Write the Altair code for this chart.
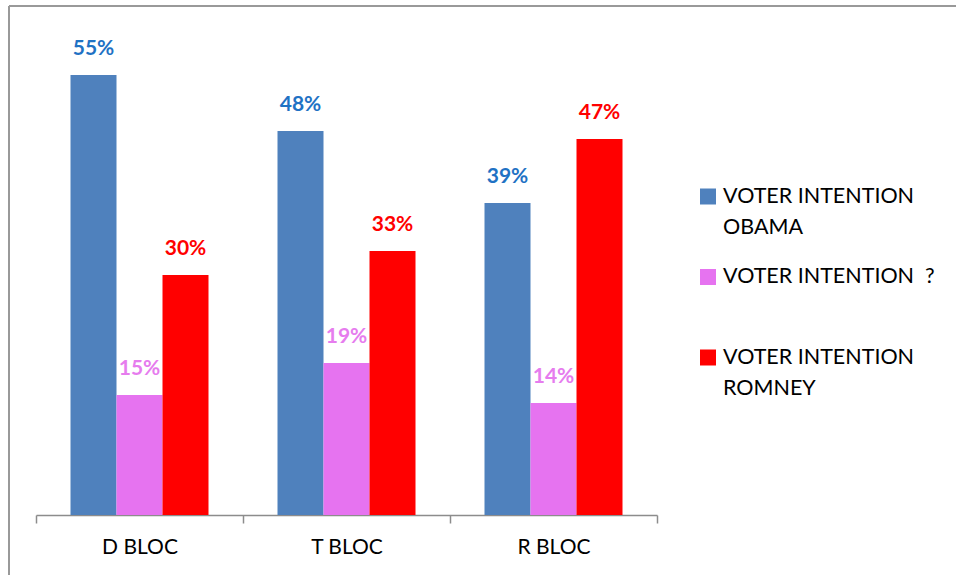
import altair as alt
import pandas as pd

categories = ["D BLOC", "T BLOC", "R BLOC"]
series = ["VOTER INTENTION OBAMA", "VOTER INTENTION ?", "VOTER INTENTION ROMNEY"]
obama = [55, 48, 39]
unsure = [15, 19, 14]
romney = [30, 33, 47]
legend_line1 = ["VOTER INTENTION", "VOTER INTENTION \u00a0?", "VOTER INTENTION"]
legend_line2 = ["OBAMA", "", "ROMNEY"]

bar_colors = ["#4f81bd", "#e673f0", "#ff0000"]
label_colors = ["#1f72c4", "#e67cee", "#ff0000"]
FONT = "Lato"

rows = []
for s, vals in zip(series, [obama, unsure, romney]):
    for c, v in zip(categories, vals):
        rows.append({"bloc": c, "series": s, "value": v, "label": f"{v}%"})
df = pd.DataFrame(rows)

x_enc = alt.X(
    "bloc:N", sort=categories,
    scale=alt.Scale(paddingInner=0, paddingOuter=0),
    axis=alt.Axis(title=None, labelAngle=0, domainColor="#8c8c8c", tickColor="#8c8c8c",
                  domainWidth=1.5, tickWidth=1.5, tickSize=8, tickBand="extent",
                  labelFontSize=21, labelColor="black", labelFont=FONT, labelPadding=13),
)
xo_enc = alt.XOffset("series:N", sort=series, scale=alt.Scale(paddingInner=0, paddingOuter=0.75))
y_enc = alt.Y("value:Q", scale=alt.Scale(domain=[0, 60]), axis=None)

bars = alt.Chart(df).mark_bar().encode(
    x=x_enc, xOffset=xo_enc, y=y_enc,
    color=alt.Color("series:N", scale=alt.Scale(domain=series, range=bar_colors), legend=None),
)
texts = alt.Chart(df).mark_text(dy=-20, baseline="alphabetic", fontSize=21, fontWeight="bold", font=FONT).encode(
    x=x_enc, xOffset=xo_enc, y=y_enc, text="label:N",
    color=alt.Color("series:N", scale=alt.Scale(domain=series, range=label_colors), legend=None),
)
one = pd.DataFrame({"a": [0]})
border_top = alt.Chart(one).mark_rule(color="#999999", strokeWidth=2).encode(
    x=alt.value(-27), x2=alt.value(920), y=alt.value(-29))
border_left = alt.Chart(one).mark_rule(color="#999999", strokeWidth=2).encode(
    x=alt.value(-27), y=alt.value(-29), y2=alt.value(540))

leg_df = pd.DataFrame({"series": series, "line1": legend_line1, "line2": legend_line2})
leg_y = alt.Y("series:N", sort=series, scale=alt.Scale(type="point", range=[161.5, 322.5], padding=0), axis=None)
leg_sym = alt.Chart(leg_df).mark_square(size=256, opacity=1).encode(
    x=alt.value(672), y=leg_y,
    color=alt.Color("series:N", scale=alt.Scale(domain=series, range=bar_colors), legend=None),
)
leg_t1 = alt.Chart(leg_df).mark_text(align="left", baseline="middle", fontSize=21.5, font=FONT, color="black").encode(
    x=alt.value(687), y=leg_y, text="line1:N")
leg_t2 = alt.Chart(leg_df).mark_text(align="left", baseline="middle", fontSize=21.5, font=FONT, color="black", dy=31).encode(
    x=alt.value(687), y=leg_y, text="line2:N")

chart = alt.layer(bars, texts, border_top, border_left, leg_sym, leg_t1, leg_t2).resolve_scale(
    color="independent", y="independent"
).properties(
    width=621, height=480,
    padding={"left": 8, "top": 5, "right": 0, "bottom": 0},
).configure_view(stroke=None)

chart.save("out.html", embed_options={"renderer": "svg", "actions": False})
